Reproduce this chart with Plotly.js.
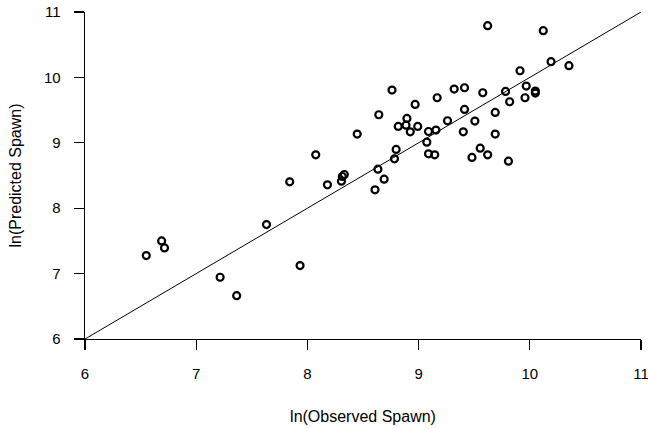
<!DOCTYPE html>
<html>
<head>
<meta charset="utf-8">
<script src="https://cdn.plot.ly/plotly-3.0.1.min.js"></script>
<style>html,body{margin:0;padding:0;background:#fff;}#chart{width:648px;height:429px;}</style>
</head>
<body>
<div id="chart"></div>
<script>
const observed = [6.551, 6.689, 6.715, 7.215, 7.364, 7.632, 7.841, 7.934, 8.075, 8.180,
  8.306, 8.314, 8.332, 8.448, 8.608, 8.634, 8.642, 8.690, 8.761, 8.783,
  8.798, 8.817, 8.895, 8.887, 8.925, 8.992, 8.969, 9.074, 9.089, 9.089,
  9.145, 9.156, 9.167, 9.260, 9.320, 9.402, 9.413, 9.413, 9.480, 9.506,
  9.554, 9.577, 9.621, 9.621, 9.689, 9.689, 9.782, 9.808, 9.819, 9.912,
  9.957, 9.968, 10.050, 10.050, 10.121, 10.191, 10.352];
const predicted = [7.276, 7.500, 7.393, 6.944, 6.663, 7.750, 8.403, 7.122, 8.816, 8.357,
  8.413, 8.485, 8.515, 9.133, 8.281, 8.597, 9.429, 8.444, 9.806, 8.755,
  8.898, 9.250, 9.372, 9.270, 9.168, 9.250, 9.587, 9.010, 9.173, 8.832,
  8.816, 9.194, 9.689, 9.337, 9.821, 9.168, 9.842, 9.510, 8.776, 9.332,
  8.918, 9.765, 10.791, 8.816, 9.464, 9.133, 9.786, 8.719, 9.628, 10.102,
  9.689, 9.867, 9.791, 9.760, 10.714, 10.240, 10.179];
const lineX = [6, 11];
const lineY = [6, 11];
const tickVals = [6, 7, 8, 9, 10, 11];
const tickText = ['6', '7', '8', '9', '10', '11'];
const xTitle = 'ln(Observed Spawn)';
const yTitle = 'ln(Predicted Spawn)';

const font = 'Arial, "Liberation Sans", sans-serif';
const traces = [
  {x: lineX, y: lineY, mode: 'lines', line: {color: '#000', width: 1}, hoverinfo: 'skip', showlegend: false},
  {x: observed, y: predicted, mode: 'markers', showlegend: false, cliponaxis: false,
   marker: {symbol: 'circle-open', size: 7, color: '#000', line: {color: '#000', width: 2.2}}}
];
const axisCommon = {
  range: [6, 11], tickvals: tickVals, ticktext: tickText,
  showgrid: false, zeroline: false, showline: true, linecolor: '#000', linewidth: 1.3,
  ticks: 'outside', ticklen: 10, tickwidth: 1.3, tickcolor: '#000',
  ticklabeloverflow: 'allow',
  tickfont: {family: font, size: 15, color: '#000'}, fixedrange: true
};
const layout = {
  width: 648, height: 429,
  margin: {l: 85, r: 7, t: 12, b: 90},
  paper_bgcolor: '#fff', plot_bgcolor: '#fff',
  xaxis: Object.assign({}, axisCommon, {ticklabelstandoff: 11,
    title: {text: xTitle, font: {family: font, size: 16, color: '#000'}, standoff: 29}}),
  yaxis: Object.assign({}, axisCommon, {ticklabelstandoff: 10,
    title: {text: yTitle, font: {family: font, size: 16, color: '#000'}, standoff: 18}}),
  showlegend: false
};
Plotly.newPlot('chart', traces, layout, {displayModeBar: false, staticPlot: true});
</script>
</body>
</html>
